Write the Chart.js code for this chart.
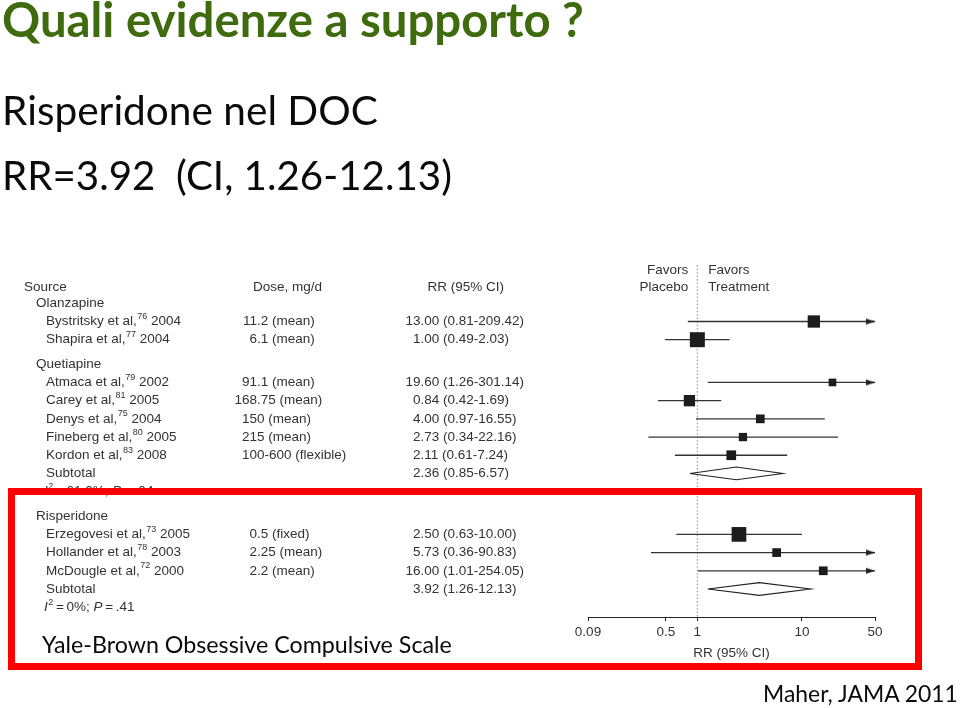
<!DOCTYPE html>
<html>
<head>
<meta charset="utf-8">
<script src="https://cdn.jsdelivr.net/npm/chart.js@4.4.1/dist/chart.umd.min.js"></script>
<style>
html,body{margin:0;padding:0;background:#fff;}
#wrap{position:relative;width:960px;height:708px;overflow:hidden;background:#fff;}
#c{position:absolute;left:0;top:0;}
.t{position:absolute;left:0;top:0;white-space:pre;font-family:Lato,'Open Sans',sans-serif;line-height:1;color:#0a0a0a;font-size:40px;}
#title{font-weight:bold;color:#3d6b0e;font-size:44px;}
#redbox{position:absolute;left:8px;top:488px;width:914px;height:182px;border:7px solid #ff0000;box-sizing:border-box;}
</style>
</head>
<body>
<div id="wrap">
  <canvas id="c" width="960" height="708"></canvas>
  <div id="redbox"></div>
  <div class="t" id="title">Quali evidenze a supporto ?</div>
  <div class="t" id="sub1">Risperidone nel DOC</div>
  <div class="t" id="sub2">RR=3.92  (CI, 1.26-12.13)</div>
  <div class="t" id="ybocs">Yale-Brown Obsessive Compulsive Scale</div>
  <div class="t" id="src">Maher, JAMA 2011</div>
</div>
<script>
// ---------------- DATA ----------------
const groupNames = ["Olanzapine", "Quetiapine", "Risperidone"];
const studyNames = ["Bystritsky et al,", "Shapira et al,", "Atmaca et al,", "Carey et al,", "Denys et al,",
                    "Fineberg et al,", "Kordon et al,", "Erzegovesi et al,", "Hollander et al,", "McDougle et al,"];
const studyRefs  = ["76", "77", "79", "81", "75", "80", "83", "73", "78", "72"];
const studyYears = ["2004", "2004", "2002", "2005", "2004", "2005", "2008", "2005", "2003", "2000"];
const studyGroup = [0, 0, 1, 1, 1, 1, 1, 2, 2, 2];
const doses = ["11.2 (mean)", "6.1 (mean)", "91.1 (mean)", "168.75 (mean)", "150 (mean)",
               "215 (mean)", "100-600 (flexible)", "0.5 (fixed)", "2.25 (mean)", "2.2 (mean)"];
const rr     = [13.00, 1.00, 19.60, 0.84, 4.00, 2.73, 2.11, 2.50, 5.73, 16.00];
const ciLow  = [0.81, 0.49, 1.26, 0.42, 0.97, 0.34, 0.61, 0.63, 0.36, 1.01];
const ciHigh = [209.42, 2.03, 301.14, 1.69, 16.55, 22.16, 7.24, 10.00, 90.83, 254.05];
const weights = [15.1, 22.5, 5.9, 12.8, 7.6, 6.9, 9.4, 21.6, 7.6, 7.6]; // relative study weights (box area)
const subGroup = [1, 2];
const subRR   = [2.36, 3.92];
const subLow  = [0.85, 1.26];
const subHigh = [6.57, 12.13];
const subI2   = ["61.0%", "0%"];
const subP    = [".04", ".41"];
const xTicks  = [0.09, 0.5, 1, 10, 50];

// ---------------- LAYOUT (row positions in y-scale units) ----------------
const X_MIN = 0.09, X_MAX = 50;
const Y_MIN = -3.93, Y_MAX = 16.24;
const GROUP_GAP = 0.35, DIAMOND_H = 0.35;
const ROW_FAVORS = -2.8, ROW_HEADER = -1.9, REF_TOP = -3.1;
const groupY = [], studyY = [], subY = [], hetY = [];
(function buildRows(){
  let cur = -1;
  groupNames.forEach((g, gi) => {
    if (gi > 0) cur += GROUP_GAP;
    groupY[gi] = cur; cur++;
    studyGroup.forEach((sg, i) => { if (sg === gi) { studyY[i] = cur; cur++; } });
    const si = subGroup.indexOf(gi);
    if (si >= 0) { subY[si] = cur; cur++; hetY[si] = cur; cur++; }
  });
})();

function makeArrow(){
  const c = document.createElement('canvas');
  c.width = 20; c.height = 8;
  const g = c.getContext('2d');
  g.fillStyle = '#222';
  g.beginPath(); g.moveTo(1, 1); g.lineTo(10, 4); g.lineTo(1, 7); g.closePath(); g.fill();
  return c;
}
const arrowImg = makeArrow();

const datasets = [];
// reference line at RR = 1
datasets.push({
  data: [{x: 1, y: REF_TOP}, {x: 1, y: Y_MAX}],
  showLine: true, borderColor: '#8a8a8a', borderWidth: 1, borderDash: [1.5, 2],
  pointRadius: 0, order: 5
});
// CI lines
rr.forEach((v, i) => {
  datasets.push({
    data: [{x: ciLow[i], y: studyY[i]}, {x: Math.min(ciHigh[i], X_MAX), y: studyY[i]}],
    showLine: true, borderColor: '#333', borderWidth: 1.3, pointRadius: 0, order: 3
  });
});
// arrows where CI exceeds axis
const arrowPts = [];
ciHigh.forEach((h, i) => { if (h > X_MAX) arrowPts.push({x: X_MAX, y: studyY[i]}); });
datasets.push({
  data: arrowPts, showLine: false, pointStyle: arrowImg, pointRadius: 5, clip: false, order: 2
});
// point estimates (boxes)
datasets.push({
  data: rr.map((v, i) => ({x: v, y: studyY[i]})),
  showLine: false, pointStyle: 'rect',
  pointRadius: weights.map(w => Math.sqrt(w * 10) / 1.4142),
  backgroundColor: '#1c1c1c', borderWidth: 0, order: 1
});
// subtotal diamonds
subRR.forEach((v, i) => {
  const y = subY[i];
  datasets.push({
    data: [{x: subLow[i], y: y}, {x: v, y: y - DIAMOND_H}, {x: subHigh[i], y: y}, {x: v, y: y + DIAMOND_H}, {x: subLow[i], y: y}],
    showLine: true, borderColor: '#222', borderWidth: 1.1, pointRadius: 0, fill: false, order: 2
  });
});

// ---------------- TABLE TEXT PLUGIN ----------------
const FAM = "'Liberation Sans', Arial, Helvetica, sans-serif";
const F = "13.5px " + FAM, FI = "italic 13.5px " + FAM, FS = "9px " + FAM;
const COL_SOURCE = 24, COL_GROUP = 36, COL_STUDY = 46, COL_HET = 44;
const COL_DOSE_HDR = 253, COL_DOSE_DEC = 257, COL_DOSE_LEFT = 242;
const COL_RR_HDR = 427.5, COL_RR_DEC = 420.4;

function decText(ctx, s, xDec, xLeft, y){
  const dot = s.indexOf('.'), sp = s.indexOf(' ');
  if (dot < 0 || (sp >= 0 && dot > sp)) { ctx.fillText(s, xLeft, y); return; }
  ctx.fillText(s, xDec - ctx.measureText(s.slice(0, dot)).width, y);
}
function fmt(v){ return v.toFixed(2); }

const tablePlugin = {
  id: 'table',
  afterDraw(chart){
    const ctx = chart.ctx, ys = chart.scales.y, xs = chart.scales.x;
    const Y = v => ys.getPixelForValue(v);
    const x1 = xs.getPixelForValue(1);
    ctx.save();
    ctx.fillStyle = '#333';
    ctx.textBaseline = 'middle';
    ctx.font = F;
    // headers
    ctx.textAlign = 'right';
    ctx.fillText('Favors', x1 - 9, Y(ROW_FAVORS));
    ctx.fillText('Placebo', x1 - 9, Y(ROW_HEADER));
    ctx.textAlign = 'left';
    ctx.fillText('Favors', x1 + 11, Y(ROW_FAVORS));
    ctx.fillText('Treatment', x1 + 11, Y(ROW_HEADER));
    ctx.fillText('Source', COL_SOURCE, Y(ROW_HEADER));
    ctx.fillText('Dose, mg/d', COL_DOSE_HDR, Y(ROW_HEADER));
    ctx.fillText('RR (95% CI)', COL_RR_HDR, Y(ROW_HEADER));
    // groups
    groupNames.forEach((g, gi) => ctx.fillText(g, COL_GROUP, Y(groupY[gi])));
    // studies
    studyNames.forEach((n, i) => {
      const y = Y(studyY[i]);
      ctx.font = F;
      ctx.fillText(n, COL_STUDY, y);
      let x = COL_STUDY + ctx.measureText(n).width + 0.5;
      ctx.font = FS;
      ctx.fillText(studyRefs[i], x, y - 5);
      x += ctx.measureText(studyRefs[i]).width;
      ctx.font = F;
      ctx.fillText(' ' + studyYears[i], x, y);
      decText(ctx, doses[i], COL_DOSE_DEC, COL_DOSE_LEFT, y);
      decText(ctx, fmt(rr[i]) + ' (' + fmt(ciLow[i]) + '-' + fmt(ciHigh[i]) + ')', COL_RR_DEC, COL_RR_DEC, y);
    });
    // subtotals
    subRR.forEach((v, i) => {
      const y = Y(subY[i]);
      ctx.font = F;
      ctx.fillText('Subtotal', COL_STUDY, y);
      decText(ctx, fmt(v) + ' (' + fmt(subLow[i]) + '-' + fmt(subHigh[i]) + ')', COL_RR_DEC, COL_RR_DEC, y);
      const yh = Y(hetY[i]);
      let x = COL_HET;
      ctx.font = FI; ctx.fillText('I', x, yh); x += ctx.measureText('I').width + 0.5;
      ctx.font = FS; ctx.fillText('2', x, yh - 5); x += ctx.measureText('2').width;
      ctx.font = F; const a = '\u2009=\u2009' + subI2[i] + '; '; ctx.fillText(a, x, yh); x += ctx.measureText(a).width;
      ctx.font = FI; ctx.fillText('P', x, yh); x += ctx.measureText('P').width;
      ctx.font = F; ctx.fillText('\u2009=\u2009' + subP[i], x, yh);
    });
    ctx.restore();
  }
};

new Chart(document.getElementById('c'), {
  type: 'scatter',
  data: { datasets: datasets },
  plugins: [tablePlugin],
  options: {
    responsive: false,
    animation: false,
    events: [],
    layout: { padding: { left: 588, right: 85, top: 250, bottom: 0 } },
    plugins: { legend: { display: false }, tooltip: { enabled: false }, title: { display: false } },
    scales: {
      x: {
        type: 'logarithmic', position: 'bottom', min: X_MIN, max: X_MAX,
        afterBuildTicks: (s) => { s.ticks = xTicks.map(v => ({ value: v })); },
        afterFit: (s) => { s.height = 91; },
        ticks: { callback: (v) => String(v), autoSkip: false, maxRotation: 0, padding: 3,
                 color: '#333', font: { family: FAM, size: 13.5 } },
        grid: { drawOnChartArea: false, drawTicks: true, tickLength: 4, color: '#222' },
        border: { display: true, color: '#222', width: 1 },
        title: { display: true, text: 'RR (95% CI)', color: '#333', font: { family: FAM, size: 13.5 },
                 padding: { top: 4, bottom: 47 } }
      },
      y: { type: 'linear', display: false, reverse: true, min: Y_MIN, max: Y_MAX }
    }
  }
});

// ---------------- SLIDE TEXT PLACEMENT ----------------
function place(id, left, baseline, width){
  const el = document.getElementById(id);
  const wrapTop = document.getElementById('wrap').getBoundingClientRect().top;
  const fs = parseFloat(getComputedStyle(el).fontSize);
  const w = el.getBoundingClientRect().width;
  el.style.fontSize = (fs * width / w) + 'px';
  el.style.left = left + 'px';
  el.style.top = '0px';
  const mk = document.createElement('span');
  mk.style.cssText = 'display:inline-block;width:0;height:0;';
  el.appendChild(mk);
  const b = mk.getBoundingClientRect().top - wrapTop;
  el.style.top = (baseline - b) + 'px';
}
place('title', 2, 37, 582);
place('sub1', 2, 125, 376);
place('sub2', 2, 190, 450);
place('ybocs', 42, 653, 410);
place('src', 763, 701.5, 195);
</script>
</body>
</html>
